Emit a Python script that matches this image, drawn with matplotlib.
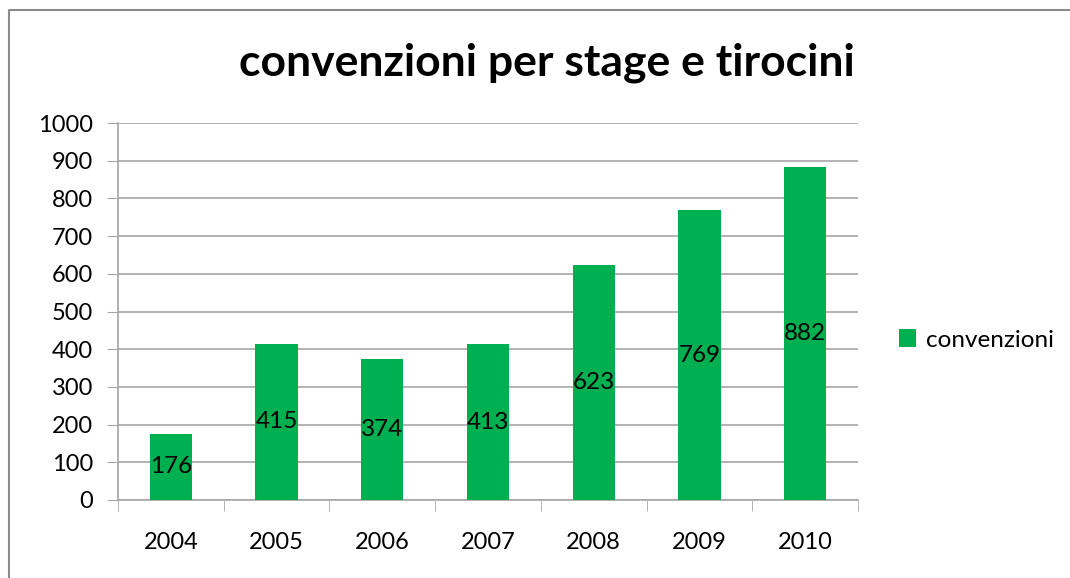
import matplotlib.pyplot as plt
from matplotlib.lines import Line2D

years = ['2004', '2005', '2006', '2007', '2008', '2009', '2010']
convenzioni = [176, 415, 374, 413, 623, 769, 882]
title = 'convenzioni per stage e tirocini'
series_name = 'convenzioni'

GREEN = '#00B050'
GRID = '#A6A6A6'

plt.rcParams['font.family'] = ['Lato', 'DejaVu Sans']

fig = plt.figure(figsize=(10.70, 5.78), dpi=100)
# chart frame: only left and top edges fall inside the picture
fx, fy = 9 / 1070, 1 - 10 / 578
fig.lines.append(Line2D([fx, fx, 1.0], [0.0, fy, fy], transform=fig.transFigure,
                        color='#8C8C8C', linewidth=1.5))

ax = fig.add_axes([118 / 1070, 1 - 500 / 578, 740 / 1070, 377 / 578])
x = list(range(len(years)))
bars = ax.bar(x, convenzioni, width=0.4, color=GREEN, label=series_name, zorder=3)

for rect, v in zip(bars, convenzioni):
    ax.text(rect.get_x() + rect.get_width() / 2, v / 2, str(v),
            ha='center', va='center', fontsize=17.5, color='black', zorder=4)

ax.set_xlim(-0.5, len(years) - 0.5)
ax.set_ylim(0, 1000)
ax.set_yticks(range(0, 1001, 100))
ax.set_xticks(x)
ax.set_xticklabels(years)
ax.set_xticks([i - 0.5 for i in range(len(years) + 1)], minor=True)
ax.tick_params(axis='x', which='major', length=0, pad=23, labelsize=17)
ax.tick_params(axis='x', which='minor', length=8, color=GRID, direction='out')
ax.tick_params(axis='y', length=8, color=GRID, labelsize=17, pad=10)
ax.grid(axis='y', color=GRID, linewidth=1.2, zorder=0)

for side in ['top', 'right']:
    ax.spines[side].set_visible(False)
for side in ['left', 'bottom']:
    ax.spines[side].set_color(GRID)
    ax.spines[side].set_linewidth(1.2)

fig.text(547 / 1070, 1 - 63 / 578, title, ha='center', va='center',
         fontsize=32, fontweight='bold')

fig.legend(loc='center left', bbox_to_anchor=(877 / 1070, 1 - 340 / 578),
           frameon=False, fontsize=17.5, handlelength=0.7, handleheight=0.7,
           handletextpad=0.4)

fig.savefig('out.png', dpi=100)
